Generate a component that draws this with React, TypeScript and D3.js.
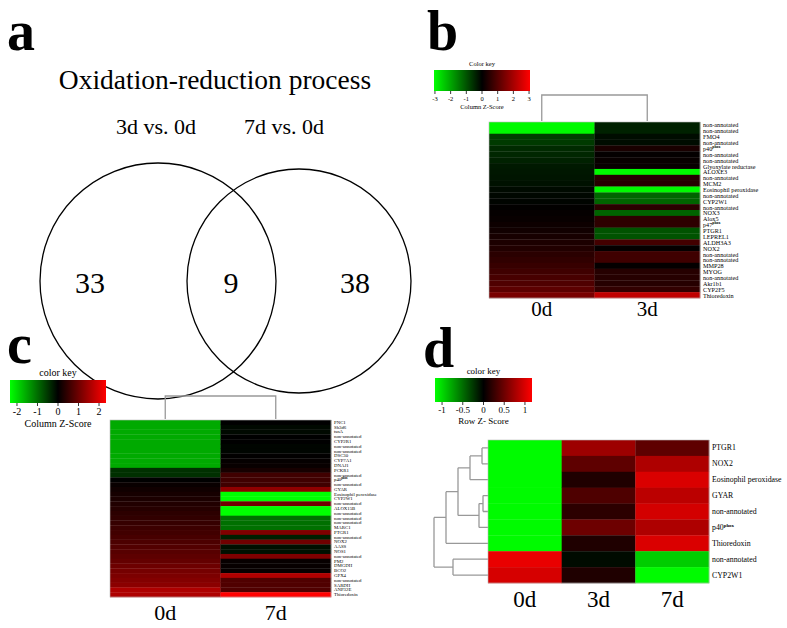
import React from 'react';
import * as d3 from 'd3';

const W = 787;
const H = 628;
const FONT = '"Liberation Serif", "Times New Roman", serif';

// ---------- Panel a (Venn) ----------
const vennTitle = 'Oxidation-reduction process';
const vennSets = ['3d vs. 0d', '7d vs. 0d'];
const vennCounts = [33, 9, 38];

// ---------- Panel b ----------
const bCols = ['0d', '3d'];
const bGenes = [
  'non-annotated', 'non-annotated', 'FMO4', 'non-annotated', 'p40^phox', 'non-annotated',
  'non-annotated', 'Glyoxylate reductase', 'ALOXE3', 'non-annotated', 'MCM2',
  'Eosinophil peroxidase', 'non-annotated', 'CYP2W1', 'non-annotated', 'NOX3', 'Alox5',
  'p47^phox', 'PTGR1', 'LEPREL1', 'ALDH3A3', 'NOX2', 'non-annotated', 'non-annotated',
  'MMP28', 'MYOG', 'non-annotated', 'Akr1b1', 'CYP2F5', 'Thioredoxin',
];
const b0d = [
  -3, -3, -0.75, -0.7, -0.5, -0.47, -0.4, -0.3, -0.28, -0.25, -0.2, -0.12, -0.08, -0.05, 0.02,
  0.06, 0.1, 0.15, 0.2, 0.28, 0.33, 0.4, 0.5, 0.58, 0.66, 0.75, 0.85, 0.95, 1.1, 1.45,
];
const b3d = [
  -0.4, -0.4, -0.15, -0.15, 0.3, 0.05, 0.1, 0.1, -3, 0.45, 0.45, -3, -1.2, -1.2, 0.5,
  -1.2, 0.55, 0.55, -1.0, -1.0, 0.8, 0.05, 0.75, 0.75, 0.05, 0.45, 0.45, 0.45, 0.6, 2.3,
];
const bKeyTicks = [-3, -2, -1, 0, 1, 2, 3];

// ---------- Panel c ----------
const cCols = ['0d', '7d'];
const cGenes = [
  'PNC1', 'Sh3d6', 'tsnA', 'non-annotated', 'CYP2R1', 'non-annotated', 'non-annotated',
  'DSC30', 'CYP7A1', 'DNAJ1', 'PCKR1', 'non-annotated', 'p40^phox', 'non-annotated', 'GYAR',
  'Eosinophil peroxidase', 'CYP2W1', 'non-annotated', 'ALOX15B', 'non-annotated',
  'non-annotated', 'non-annotated', 'MARC1', 'PTGR1', 'non-annotated', 'NOX2', 'AASS', 'NOS1',
  'non-annotated', 'PM2', 'DMGDH', 'BCO2', 'GPX4', 'non-annotated', 'SARDH', 'ANP32E',
  'Thioredoxin',
];
const c0d = [
  -1.56, -1.56, -1.56, -1.56, -1.56, -1.56, -1.56, -1.56, -1.56, -1.56, -0.44, -0.44, 0.0,
  0.08, 0.15, 0.2, 0.25, 0.3, 0.35, 0.4, 0.45, 0.5, 0.55, 0.6, 0.65, 0.7, 0.75, 0.8, 0.85,
  0.92, 1.0, 1.07, 1.14, 1.2, 1.28, 1.6, 1.6,
];
const c7d = [
  0.0, -0.08, -0.08, 0.0, 0.0, -0.05, -0.05, 0.02, 0.05, 0.07, 0.2, 0.59, 0.59, 0.59, 1.32,
  -2.34, -2.34, 1.03, -2.34, -2.34, -1.03, -1.03, -1.03, 1.17, -0.29, 1.03, -0.15, -0.15,
  1.17, 0.06, 0.06, 0.06, 1.62, 0.73, 0.73, 0.73, 2.34,
];
const cKeyTicks = [-2, -1, 0, 1, 2];

// ---------- Panel d ----------
const dCols = ['0d', '3d', '7d'];
const dGenes = [
  'PTGR1', 'NOX2', 'Eosinophil peroxidase', 'GYAR', 'non-annotated', 'p40^phox',
  'Thioredoxin', 'non-annotated', 'CYP2W1',
];
const d0d = [-1.15, -1.15, -1.15, -1.15, -1.15, -1.15, -1.15, 1.07, 0.98];
const d3d = [0.72, 0.43, 0.14, 0.36, 0.2, 0.5, 0.14, -0.05, 0.14];
const d7d = [0.43, 0.8, 1.0, 0.86, 0.97, 0.8, 1.0, -0.94, -1.15];
const dKeyTicks = [-1, -0.5, 0, 0.5, 1];
// row dendrogram: merge heights, leaves are row indices
const dTree = {
  h: 54, children: [
    { h: 42, children: [
      { h: 30, children: [
        { h: 18, children: [{ h: 6, children: [{ leaf: 0 }, { leaf: 1 }] }, { leaf: 2 }] },
        { h: 9, children: [{ h: 5, children: [{ leaf: 3 }, { leaf: 4 }] }, { leaf: 5 }] },
      ] },
      { leaf: 6 },
    ] },
    { h: 35, children: [{ leaf: 7 }, { leaf: 8 }] },
  ],
};

const makeColor = (m: number) =>
  d3.scaleLinear<string>().domain([-m, 0, m]).range(['#00ff00', '#000000', '#ff0000']).clamp(true);

function GeneLabel({ x, y, text, size }: { x: number; y: number; text: string; size: number }) {
  const [base, sup] = text.split('^');
  return (
    <text x={x} y={y} fontSize={size} dominantBaseline="central" fontFamily={FONT} fill="#000">
      {base}
      {sup ? (
        <tspan fontSize={size * 0.62} dy={-size * 0.28} fontWeight="bold">{sup}</tspan>
      ) : null}
    </text>
  );
}

function ColorKey({ x0, x1, y0, y1, m, ticks, title, subtitle, id, fs }: any) {
  const color = makeColor(m);
  const sx = d3.scaleLinear().domain([-m, m]).range([x0, x1]);
  const stops = d3.range(0, 11).map((i) => -m + (2 * m * i) / 10);
  return (
    <g fontFamily={FONT}>
      <defs>
        <linearGradient id={id} x1="0" x2="1" y1="0" y2="0">
          {stops.map((v, i) => (
            <stop key={i} offset={`${(i / 10) * 100}%`} stopColor={color(v)} />
          ))}
        </linearGradient>
      </defs>
      <text x={(x0 + x1) / 2} y={y0 - 4} textAnchor="middle" fontSize={fs}>{title}</text>
      <rect x={x0} y={y0} width={x1 - x0} height={y1 - y0} fill={`url(#${id})`} />
      {ticks.map((t: number) => (
        <g key={t}>
          <line x1={sx(t)} x2={sx(t)} y1={y1} y2={y1 + 3} stroke="#000" strokeWidth={0.8} />
          <text x={sx(t)} y={y1 + 5} dominantBaseline="hanging" textAnchor="middle" fontSize={fs}>
            {t}
          </text>
        </g>
      ))}
      <text x={(x0 + x1) / 2} y={y1 + 5 + fs * 1.2} dominantBaseline="hanging" textAnchor="middle" fontSize={fs}>
        {subtitle}
      </text>
    </g>
  );
}

function Heatmap({ x0, x1, y0, y1, cols, data, genes, m, labelSize, colLabelSize, colLabelY }: any) {
  const color = makeColor(m);
  const sx = d3.scaleBand<number>().domain(d3.range(cols.length)).range([x0, x1]);
  const sy = d3.scaleBand<number>().domain(d3.range(genes.length)).range([y0, y1]);
  return (
    <g>
      {data.map((col: number[], ci: number) =>
        col.map((v, ri) => (
          <rect
            key={`${ci}-${ri}`}
            x={sx(ci)}
            y={sy(ri)}
            width={sx.bandwidth() + 0.3}
            height={sy.bandwidth() + 0.3}
            fill={color(v)}
          />
        ))
      )}
      <rect x={x0} y={y0} width={x1 - x0} height={y1 - y0} fill="none" stroke="#bbb" strokeWidth={0.6} />
      {genes.map((g: string, i: number) => (
        <GeneLabel key={i} x={x1 + 3} y={(sy(i) as number) + sy.bandwidth() / 2} text={g} size={labelSize} />
      ))}
      {cols.map((c: string, i: number) => (
        <text
          key={c}
          x={(sx(i) as number) + sx.bandwidth() / 2}
          y={colLabelY}
          textAnchor="middle"
          fontSize={colLabelSize}
          fontFamily={FONT}
        >
          {c}
        </text>
      ))}
    </g>
  );
}

function ColBracket({ x0, x1, n, yTop, yBottom }: any) {
  const sx = d3.scaleBand<number>().domain(d3.range(n)).range([x0, x1]);
  const a = (sx(0) as number) + sx.bandwidth() / 2;
  const b = (sx(1) as number) + sx.bandwidth() / 2;
  const p = d3.path();
  p.moveTo(a, yBottom);
  p.lineTo(a, yTop);
  p.lineTo(b, yTop);
  p.lineTo(b, yBottom);
  return <path d={p.toString()} fill="none" stroke="#999" strokeWidth={1.3} />;
}

function RowDendro({ tree, n, y0, y1, xLeaf, xRoot, maxH }: any) {
  const sy = d3.scaleBand<number>().domain(d3.range(n)).range([y0, y1]);
  const sx = d3.scaleLinear().domain([0, maxH]).range([xLeaf, xRoot]);
  const root = d3.hierarchy<any>(tree);
  const yOf = new Map<any, number>();
  root.eachAfter((node: any) => {
    if (node.data.leaf !== undefined) {
      yOf.set(node, (sy(node.data.leaf) as number) + sy.bandwidth() / 2);
    } else {
      const ys = node.children.map((c: any) => yOf.get(c));
      yOf.set(node, (d3.min(ys) + d3.max(ys)) / 2);
    }
  });
  const p = d3.path();
  root.each((node: any) => {
    if (!node.children) return;
    const hx = sx(node.data.h);
    const ys = node.children.map((c: any) => yOf.get(c));
    p.moveTo(hx, d3.min(ys) as number);
    p.lineTo(hx, d3.max(ys) as number);
    node.children.forEach((c: any) => {
      const ch = c.data.leaf !== undefined ? 0 : c.data.h;
      p.moveTo(hx, yOf.get(c) as number);
      p.lineTo(sx(ch), yOf.get(c) as number);
    });
  });
  return <path d={p.toString()} fill="none" stroke="#999" strokeWidth={1.3} />;
}

export default function App() {
  return (
    <svg
      width={W}
      height={H}
      viewBox={`0 0 ${W} ${H}`}
      style={{ position: 'absolute', left: 0, top: 0, background: '#fff' }}
      fontFamily={FONT}
    >
      <rect x={0} y={0} width={W} height={H} fill="#fff" />
      {/* panel letters */}
      <text x={7} y={50} fontSize={56} fontWeight="bold">a</text>
      <text x={427} y={50} fontSize={56} fontWeight="bold">b</text>
      <text x={7} y={363} fontSize={56} fontWeight="bold">c</text>
      <text x={423} y={367} fontSize={56} fontWeight="bold">d</text>

      {/* Panel a */}
      <text x={215} y={89} textAnchor="middle" fontSize={27.5}>{vennTitle}</text>
      <text x={156} y={134} textAnchor="middle" fontSize={22}>{vennSets[0]}</text>
      <text x={284} y={134} textAnchor="middle" fontSize={22}>{vennSets[1]}</text>
      <circle cx={158} cy={281} r={118} fill="none" stroke="#000" strokeWidth={1.3} />
      <circle cx={299} cy={281} r={112} fill="none" stroke="#000" strokeWidth={1.3} />
      <text x={90} y={293} textAnchor="middle" fontSize={30}>{vennCounts[0]}</text>
      <text x={231} y={293} textAnchor="middle" fontSize={30}>{vennCounts[1]}</text>
      <text x={355} y={293} textAnchor="middle" fontSize={30}>{vennCounts[2]}</text>

      {/* Panel b */}
      <ColorKey x0={434} x1={530} y0={70} y1={91} m={3.06} ticks={bKeyTicks} title="Color key"
        subtitle="Column Z-Score" id="gb" fs={6.5} />
      <ColBracket x0={489} x1={700} n={2} yTop={95} yBottom={121} />
      <Heatmap x0={489} x1={700} y0={122} y1={298} cols={bCols} data={[b0d, b3d]} genes={bGenes}
        m={3.06} labelSize={6.2} colLabelSize={21} colLabelY={316} />

      {/* Panel c */}
      <ColorKey x0={10} x1={106} y0={380} y1={403} m={2.34} ticks={cKeyTicks} title="color key"
        subtitle="Column Z-Score" id="gc" fs={10} />
      <ColBracket x0={110} x1={331} n={2} yTop={396} yBottom={419} />
      <Heatmap x0={110} x1={331} y0={420} y1={597} cols={cCols} data={[c0d, c7d]} genes={cGenes}
        m={2.34} labelSize={4.8} colLabelSize={22} colLabelY={620} />

      {/* Panel d */}
      <ColorKey x0={435} x1={532} y0={378} y1={402} m={1.17} ticks={dKeyTicks} title="color key"
        subtitle="Row Z- Score" id="gd" fs={9} />
      <RowDendro tree={dTree} n={dGenes.length} y0={440} y1={583} xLeaf={488} xRoot={434} maxH={54} />
      <Heatmap x0={488} x1={709} y0={440} y1={583} cols={dCols} data={[d0d, d3d, d7d]} genes={dGenes}
        m={1.17} labelSize={7.8} colLabelSize={23} colLabelY={607} />
    </svg>
  );
}
